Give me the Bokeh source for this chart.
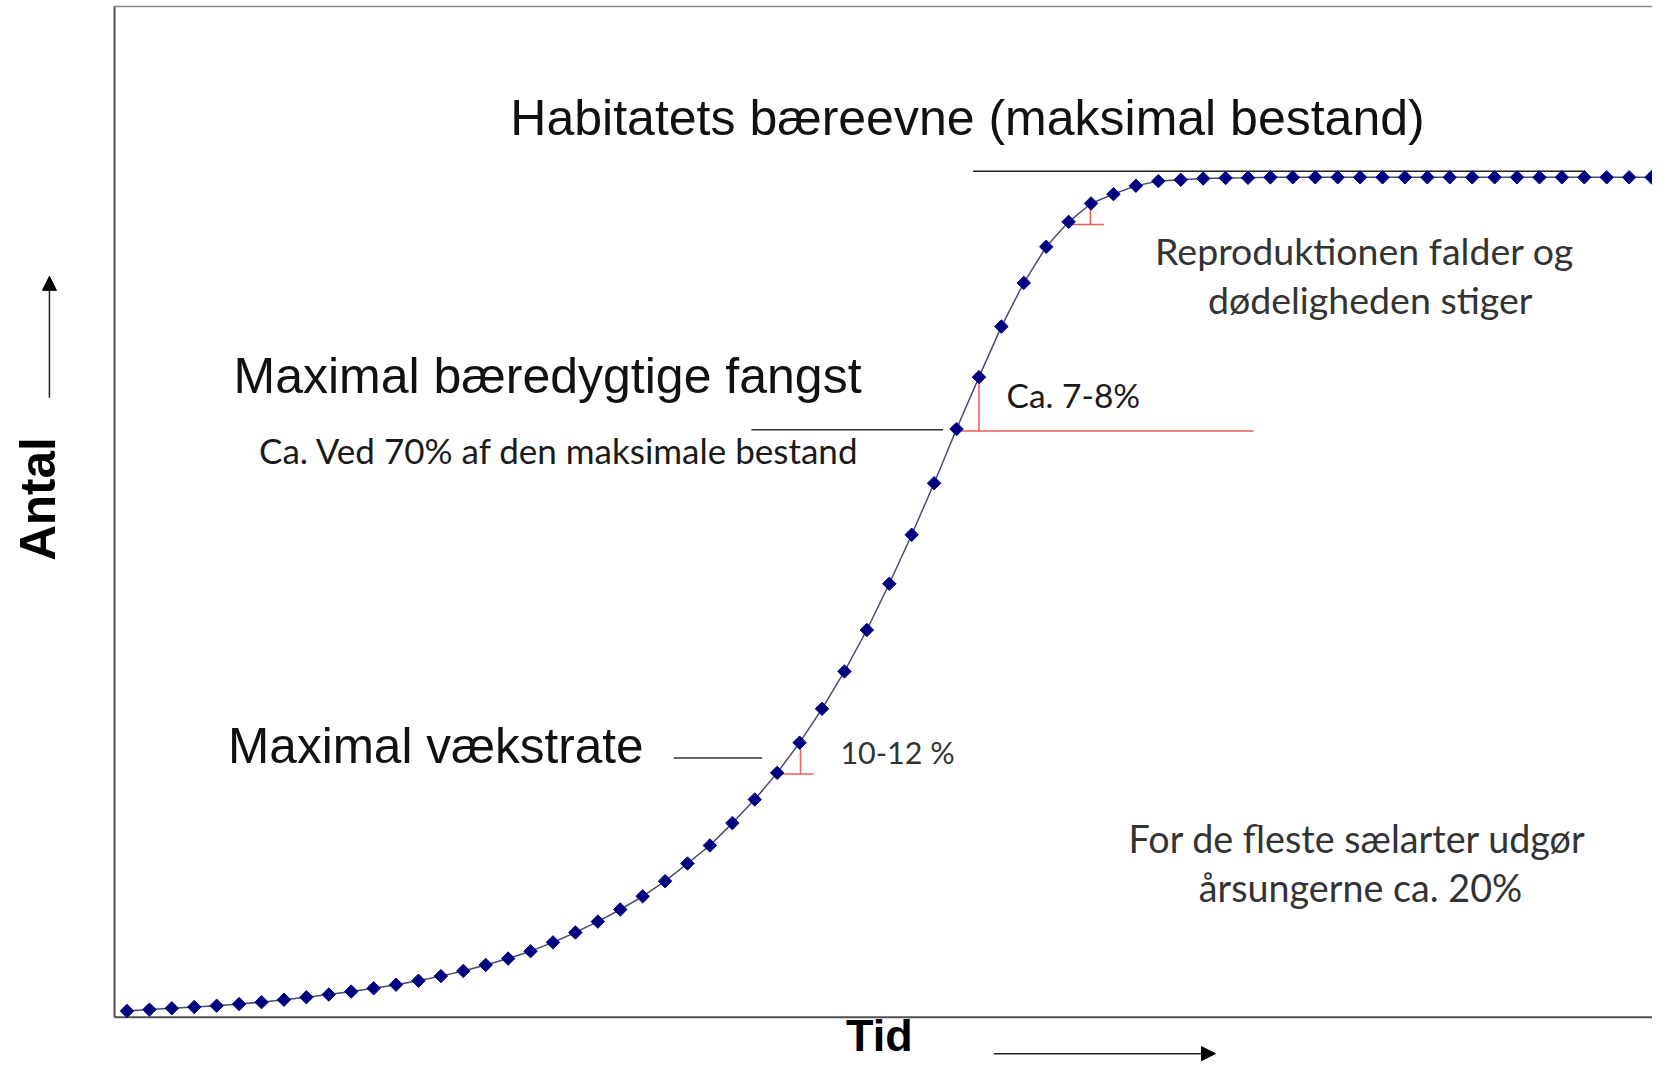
from bokeh.plotting import figure
from bokeh.models import Label, Arrow, NormalHead, Range1d
from bokeh.embed import file_html
from bokeh.resources import INLINE

# ---- data ----
tid = list(range(70))
antal = [0.74, 0.90, 1.06, 1.21, 1.37, 1.56, 1.79, 2.08, 2.38, 2.70,
         3.05, 3.44, 3.87, 4.34, 4.89, 5.51, 6.22, 6.98, 7.86, 8.91,
         10.09, 11.38, 12.82, 14.39, 16.19, 18.30, 20.45, 23.11, 25.92, 29.09,
         32.69, 36.72, 41.17, 46.10, 51.61, 57.44, 63.58, 70.03, 76.21, 82.23,
         87.43, 91.73, 94.70, 96.89, 98.00, 99.00, 99.55, 99.71, 99.86, 99.92,
         99.95, 100.0, 100.0, 100.0, 100.0, 100.0, 100.0, 100.0, 100.0, 100.0,
         100.0, 100.0, 100.0, 100.0, 100.0, 100.0, 100.0, 100.0, 100.0, 100.0]

# reference lines (x in time steps, y in % of carrying capacity)
baereevne_x = [37.74, 65.05]
baereevne_y = [100.73, 100.73]
msy_leader_x = [27.85, 36.4]
msy_leader_y = [69.95, 69.95]
msy_h_x = [37.09, 50.25]
msy_h_y = [69.8, 69.8]
msy_v_x = [38.0, 38.0]
msy_v_y = [69.8, 76.0]
vr_leader_x = [24.39, 28.33]
vr_leader_y = [30.85, 30.85]
vr_h_x = [28.97, 30.63]
vr_h_y = [28.97, 28.97]
vr_v_x = [30.04, 30.04]
vr_v_y = [28.97, 32.5]
top_h_x = [41.98, 43.57]
top_h_y = [94.39, 94.39]
top_v_x = [42.97, 42.97]
top_v_y = [94.39, 96.81]

# view extents (whole canvas is the plotting area; the chart frame is drawn)
X_START, X_END = -5.6423, 68.042
Y_START, Y_END = -5.396, 121.056
FRAME_X0 = -0.5575
FRAME_TOP = 120.35

p = figure(width=1652, height=1062, output_backend="svg", toolbar_location=None,
           x_range=Range1d(X_START, X_END), y_range=Range1d(Y_START, Y_END),
           min_border_left=0, min_border_right=0, min_border_top=0, min_border_bottom=0,
           background_fill_color="white", border_fill_color="white")
p.outline_line_color = None
p.grid.visible = False
p.xaxis.visible = False
p.yaxis.visible = False

# chart frame
p.line([FRAME_X0, X_END], [FRAME_TOP, FRAME_TOP], line_color="#8a8a8a", line_width=1.5)
p.line([FRAME_X0, FRAME_X0], [0, FRAME_TOP], line_color="#505050", line_width=2)
p.line([FRAME_X0, X_END], [0, 0], line_color="#505050", line_width=2)

RED = "#ee5a5a"
BLK = "#333333"
p.line(baereevne_x, baereevne_y, line_color="#222222", line_width=1.5)
p.line(msy_leader_x, msy_leader_y, line_color=BLK, line_width=1.5)
p.line(vr_leader_x, vr_leader_y, line_color=BLK, line_width=1.5)
for xs, ys in ((msy_h_x, msy_h_y), (msy_v_x, msy_v_y), (vr_h_x, vr_h_y),
               (vr_v_x, vr_v_y), (top_h_x, top_h_y), (top_v_x, top_v_y)):
    p.line(xs, ys, line_color=RED, line_width=1.5)

p.line(tid, antal, line_color="#4a4a70", line_width=1.5)
p.scatter(tid, antal, marker="square", angle=0.7853981634, size=9.5,
          fill_color="#000080", line_color="#000080")

ARIAL = "Liberation Sans"
CAL = "Lato"

def lab(text, x, y, font, size, align="left", bold=False, angle=0.0, color="#111111"):
    p.add_layout(Label(x=x, y=y, text=text, text_font=font, text_font_size=f"{size}px",
                       text_align=align, text_baseline="middle", angle=angle,
                       text_font_style="bold" if bold else "normal", text_color=color))

lab("Habitatets bæreevne (maksimal bestand)", 37.49, 107.1, ARIAL, 50, "center")
lab("Maximal bæredygtige fangst", 4.75, 76.36, ARIAL, 50)
lab("Maximal vækstrate", 4.51, 32.38, ARIAL, 49.5)

lab("Ca.  Ved 70% af den maksimale bestand", 5.89, 67.52, CAL, 35, color="#1a1a1a")
lab("10-12 %", 31.82, 31.55, CAL, 30.5, color="#333333")
lab("Ca. 7-8%", 39.23, 74.13, CAL, 33.5, color="#1a1a1a")
lab("Reproduktionen falder og", 55.2, 91.26, CAL, 37.5, "center", color="#333333")
lab("dødeligheden stiger", 55.45, 85.4, CAL, 37.5, "center", color="#333333")
lab("For de fleste sælarter udgør", 54.88, 21.23, CAL, 37.7, "center", color="#333333")
lab("årsungerne ca. 20%", 55.02, 15.48, CAL, 37.7, "center", color="#333333")

lab("Antal", -4.01, 61.7, ARIAL, 49.5, "center", bold=True, angle=1.5707963268, color="#000000")
lab("Tid", 33.56, -2.15, ARIAL, 45, "center", bold=True, color="#000000")

p.add_layout(Arrow(end=NormalHead(size=14, fill_color="black", line_color="black"),
                   x_start=-3.46, y_start=73.75, x_end=-3.46, y_end=88.21,
                   line_color="#222222", line_width=1.5))
p.add_layout(Arrow(end=NormalHead(size=14, fill_color="black", line_color="black"),
                   x_start=38.66, y_start=-4.34, x_end=48.55, y_end=-4.34,
                   line_color="#222222", line_width=1.5))

open("out.html", "w").write(file_html(p, INLINE))
